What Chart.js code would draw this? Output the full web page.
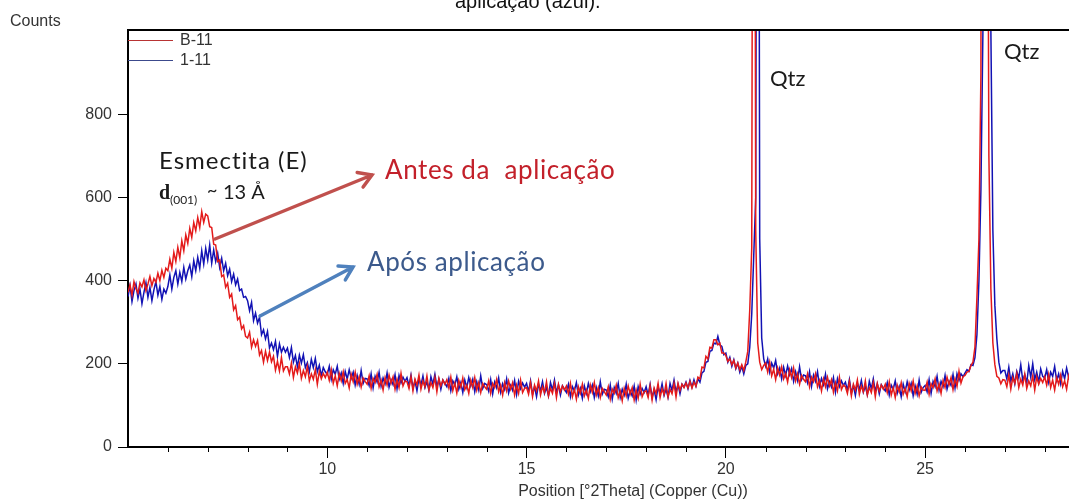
<!DOCTYPE html>
<html>
<head>
<meta charset="utf-8">
<script src="https://cdn.jsdelivr.net/npm/chart.js@4.4.0/dist/chart.umd.min.js"></script>
<style>
  html, body { margin: 0; padding: 0; background: #fff; }
</style>
</head>
<body>
<canvas id="xrd" width="1069" height="500"></canvas>
<script>
// 2theta sampling of both scans
const thetaStart = 5;
const thetaStep = 0.05;

// B-11 (antes da aplicacao), one row per degree
const countsB11 = [
  372, 390, 365, 398, 381, 370, 395, 385, 402, 376, 392, 410, 388, 405, 396, 418, 400, 425, 408, 430,
  424, 452, 430, 468, 446, 480, 455, 496, 472, 510, 490, 526, 504, 540, 520, 552, 528, 566, 540, 560,
  556, 530, 528, 488, 486, 446, 450, 410, 414, 384, 394, 360, 368, 330, 340, 306, 312, 284, 292, 266,
  262, 276, 240, 258, 242, 256, 221, 232, 204, 230, 208, 228, 205, 218, 185, 206, 183, 215, 183, 193,
  193, 176, 202, 167, 193, 178, 200, 165, 184, 169, 194, 159, 176, 163, 186, 151, 182, 164, 177, 167,
  180, 160, 186, 153, 171, 147, 177, 159, 181, 153, 162, 142, 175, 157, 180, 151, 169, 144, 166, 158,
  151, 171, 141, 165, 155, 175, 145, 161, 137, 167, 149, 173, 153, 169, 139, 163, 143, 177, 147, 159,
  157, 141, 169, 135, 163, 149, 173, 139, 159, 145, 171, 137, 155, 143, 167, 133, 165, 147, 161, 151,
  162, 142, 168, 136, 154, 130, 160, 144, 166, 138, 149, 129, 161, 143, 167, 137, 155, 131, 153, 145,
  139, 159, 129, 153, 143, 163, 133, 149, 125, 155, 135, 159, 139, 155, 125, 149, 129, 161, 131, 141,
  143, 127, 155, 121, 149, 135, 159, 125, 145, 131, 157, 123, 141, 129, 153, 119, 151, 133, 147, 137,
  147, 127, 153, 121, 139, 115, 145, 129, 151, 123, 137, 117, 149, 131, 155, 125, 143, 119, 141, 133,
  125, 145, 115, 139, 129, 149, 119, 135, 111, 141, 123, 147, 127, 143, 113, 137, 117, 151, 121, 133,
  135, 119, 147, 113, 142, 128, 153, 119, 140, 126, 153, 120, 139, 128, 153, 120, 153, 136, 151, 143,
  154, 142, 158, 142, 156, 146, 168, 164, 192, 190, 218, 212, 240, 238, 258, 258, 246, 250, 226, 226,
  220, 206, 212, 198, 208, 190, 202, 186, 198, 184, 204, 230, 330, 480, 3000, 520, 250, 204, 186, 196,
  202, 180, 204, 171, 187, 162, 190, 173, 193, 164, 177, 156, 186, 167, 190, 159, 176, 151, 172, 163,
  157, 176, 145, 168, 157, 176, 145, 160, 135, 164, 145, 168, 147, 162, 132, 155, 135, 168, 138, 149,
  145, 129, 157, 123, 151, 137, 161, 127, 147, 133, 159, 125, 143, 131, 155, 121, 153, 135, 149, 139,
  151, 131, 157, 125, 143, 119, 149, 133, 155, 127, 141, 121, 153, 135, 159, 129, 147, 123, 145, 137,
  136, 156, 127, 152, 143, 164, 135, 152, 129, 160, 143, 168, 149, 167, 138, 164, 146, 182, 154, 169,
  172, 180, 182, 196, 204, 240, 360, 500, 900, 4500, 6000, 2000, 700, 380, 250, 198, 170, 166, 152, 162,
  161, 145, 173, 139, 167, 153, 177, 143, 163, 149, 175, 141, 159, 147, 171, 137, 169, 151, 165, 155,
  169, 149, 175, 143, 161, 137, 167, 151, 173, 145, 159, 139, 171, 153
];

// 1-11 (apos aplicacao)
const counts111 = [
  362, 388, 350, 376, 392, 358, 380, 345, 372, 395, 360, 384, 352, 378, 398, 365, 386, 355, 380, 370,
  386, 414, 380, 408, 424, 392, 420, 398, 432, 404, 424, 438, 410, 448, 424, 456, 430, 472, 440, 478,
  450, 486, 442, 474, 446, 466, 432, 454, 424, 442, 412, 428, 398, 416, 390, 404, 376, 380, 360, 362,
  352, 328, 348, 304, 322, 298, 312, 270, 282, 260, 278, 238, 250, 234, 254, 218, 248, 228, 240, 228,
  238, 215, 239, 204, 220, 193, 221, 202, 222, 191, 203, 181, 211, 191, 213, 181, 197, 171, 191, 181,
  175, 194, 163, 186, 175, 194, 163, 178, 153, 182, 163, 186, 165, 180, 149, 172, 151, 184, 153, 165,
  164, 148, 176, 142, 170, 156, 180, 146, 166, 152, 178, 144, 162, 150, 174, 140, 172, 154, 168, 158,
  167, 147, 173, 141, 159, 135, 165, 149, 171, 143, 157, 137, 169, 151, 175, 145, 163, 139, 161, 153,
  145, 165, 135, 159, 149, 169, 139, 155, 131, 161, 143, 167, 147, 163, 133, 157, 137, 171, 141, 153,
  150, 134, 162, 128, 156, 142, 166, 132, 152, 138, 164, 130, 148, 136, 160, 126, 158, 140, 154, 144,
  153, 133, 159, 127, 145, 121, 151, 135, 157, 129, 143, 123, 155, 137, 161, 131, 149, 125, 147, 139,
  131, 151, 121, 145, 135, 155, 125, 141, 117, 147, 129, 153, 133, 149, 119, 143, 123, 157, 127, 139,
  137, 121, 149, 115, 143, 129, 153, 119, 139, 125, 151, 117, 135, 123, 147, 113, 145, 127, 141, 131,
  145, 125, 151, 119, 138, 114, 145, 129, 152, 124, 139, 120, 153, 136, 161, 132, 151, 128, 151, 144,
  156, 140, 160, 144, 162, 146, 164, 156, 178, 182, 204, 206, 230, 232, 250, 248, 266, 246, 242, 222,
  226, 204, 216, 194, 210, 188, 202, 180, 194, 176, 196, 200, 240, 320, 460, 600, 3000, 500, 262, 212,
  194, 212, 180, 202, 190, 208, 176, 190, 164, 192, 172, 195, 174, 189, 158, 181, 160, 193, 162, 173,
  171, 154, 181, 146, 173, 158, 181, 146, 165, 150, 175, 140, 157, 144, 167, 132, 164, 145, 159, 148,
  156, 136, 162, 130, 148, 124, 154, 138, 160, 132, 146, 126, 158, 140, 164, 134, 152, 128, 150, 142,
  135, 155, 125, 149, 139, 159, 129, 145, 121, 151, 133, 157, 137, 153, 123, 147, 127, 161, 131, 143,
  148, 133, 162, 129, 158, 145, 170, 137, 158, 145, 172, 139, 158, 148, 174, 142, 176, 160, 176, 169,
  178, 186, 182, 198, 196, 215, 270, 400, 620, 1000, 4000, 6000, 2500, 1000, 520, 340, 260, 204, 178, 184,
  184, 164, 192, 158, 176, 152, 182, 166, 198, 160, 174, 154, 196, 168, 200, 162, 180, 156, 188, 170,
  166, 186, 156, 180, 170, 194, 160, 176, 152, 182, 164, 190, 168, 184
];

const xTickLabels = [10, 15, 20, 25];
const xMinorTicks = [6, 7, 8, 9, 11, 12, 13, 14, 16, 17, 18, 19, 21, 22, 23, 24, 26, 27, 28];
const yTickLabels = [0, 200, 400, 600, 800];

const axisFont = '"Liberation Sans", Arial, sans-serif';
const noteFont = 'Lato, "Open Sans", sans-serif';

function toPoints(counts) {
    return counts.map((c, i) => ({ x: thetaStart + i * thetaStep, y: c }));
}

function drawArrow(ctx, x1, y1, x2, y2, color, width) {
    const ang = Math.atan2(y2 - y1, x2 - x1);
    const head = 15;
    ctx.strokeStyle = color;
    ctx.lineWidth = width;
    ctx.lineCap = 'round';
    ctx.beginPath();
    ctx.moveTo(x1, y1);
    ctx.lineTo(x2, y2);
    ctx.moveTo(x2 - head * Math.cos(ang - 0.55), y2 - head * Math.sin(ang - 0.55));
    ctx.lineTo(x2, y2);
    ctx.lineTo(x2 - head * Math.cos(ang + 0.55), y2 - head * Math.sin(ang + 0.55));
    ctx.stroke();
}

const decorPlugin = {
    id: 'decor',
    afterDraw(chart) {
        const { ctx, chartArea: a, scales } = chart;
        const x = scales.x;
        ctx.save();

        // frame top line
        ctx.strokeStyle = '#000';
        ctx.lineWidth = 2;
        ctx.beginPath();
        ctx.moveTo(a.left - 1, a.top);
        ctx.lineTo(a.right, a.top);
        ctx.stroke();

        // short minor ticks on x
        ctx.lineWidth = 1;
        xMinorTicks.forEach(v => {
            const px = Math.round(x.getPixelForValue(v)) + 0.5;
            ctx.beginPath();
            ctx.moveTo(px, a.bottom);
            ctx.lineTo(px, a.bottom + 5);
            ctx.stroke();
        });

        // axis texts
        ctx.fillStyle = '#333';
        ctx.font = '16px ' + axisFont;
        ctx.textBaseline = 'alphabetic';
        ctx.textAlign = 'left';
        ctx.fillText('Counts', 10, 26);
        ctx.textAlign = 'center';
        ctx.fillText('Position [°2Theta] (Copper (Cu))', 633, 496);

        // cut-off caption at the very top
        ctx.fillStyle = '#111';
        ctx.textAlign = 'left';
        ctx.font = '20px "Liberation Sans", Arial, sans-serif';
        ctx.fillText('aplicação (azul).', 455, 8);

        // legend
        ctx.lineWidth = 1;
        ctx.strokeStyle = '#b83434';
        ctx.beginPath(); ctx.moveTo(a.left, 40.5); ctx.lineTo(173, 40.5); ctx.stroke();
        ctx.strokeStyle = '#3c4a8c';
        ctx.beginPath(); ctx.moveTo(a.left, 60.5); ctx.lineTo(173, 60.5); ctx.stroke();
        ctx.fillStyle = '#333';
        ctx.font = '16px ' + axisFont;
        ctx.textBaseline = 'middle';
        ctx.fillText('B-11', 180, 41);
        ctx.fillText('1-11', 180, 61);

        // annotations
        ctx.textBaseline = 'alphabetic';
        ctx.fillStyle = '#1a1a1a';
        ctx.font = '24px ' + noteFont;
        ctx.letterSpacing = '1px';
        ctx.fillText('Esmectita (E)', 159, 169);
        ctx.letterSpacing = '0px';
        ctx.font = 'bold 20px "Liberation Serif", serif';
        ctx.fillText('d', 159, 199);
        ctx.font = '12px ' + noteFont;
        ctx.fillText('(001)', 170, 204);
        ctx.font = '18px ' + noteFont;
        ctx.fillText('~', 207, 196);
        ctx.font = '20px ' + noteFont;
        ctx.fillText('13 Å', 223, 199);

        ctx.font = '22px ' + noteFont;
        ctx.fillText('Qtz', 770, 86);
        ctx.fillText('Qtz', 1004, 59);

        ctx.font = '26px ' + noteFont;
        ctx.letterSpacing = '0.6px';
        ctx.fillStyle = '#c3202a';
        ctx.fillText('Antes da  aplicação', 385, 179);
        ctx.fillStyle = '#3c5a8c';
        ctx.fillText('Após aplicação', 367, 271);
        ctx.letterSpacing = '0px';

        drawArrow(ctx, 215, 239, 372, 175, '#c0504d', 3.5);
        drawArrow(ctx, 260, 316, 353, 267, '#4f81bd', 3.5);

        ctx.restore();
    }
};

const ctx = document.getElementById('xrd').getContext('2d');
new Chart(ctx, {
    type: 'line',
    data: {
        datasets: [
            {
                label: 'B-11',
                data: toPoints(countsB11),
                borderColor: '#e41a1a',
                borderWidth: 1.5,
                pointRadius: 0,
                tension: 0
            },
            {
                label: '1-11',
                data: toPoints(counts111),
                borderColor: '#1212b4',
                borderWidth: 1.5,
                pointRadius: 0,
                tension: 0
            }
        ]
    },
    options: {
        responsive: false,
        animation: false,
        layout: { padding: { top: 30, right: 0, left: 0, bottom: 0 } },
        plugins: {
            legend: { display: false },
            tooltip: { enabled: false },
            title: { display: false }
        },
        scales: {
            x: {
                type: 'linear',
                min: 5,
                max: 28.61,
                afterBuildTicks: scale => { scale.ticks = xTickLabels.map(v => ({ value: v })); },
                afterFit: scale => { scale.height = 53; },
                ticks: {
                    font: { family: axisFont, size: 16 },
                    color: '#333',
                    padding: 2,
                    maxRotation: 0,
                    autoSkip: false
                },
                grid: { drawOnChartArea: false, tickLength: 11, tickColor: '#000', tickWidth: 1 },
                border: { color: '#000', width: 2 }
            },
            y: {
                min: 0,
                max: 1003,
                afterBuildTicks: scale => { scale.ticks = yTickLabels.map(v => ({ value: v })); },
                afterFit: scale => { scale.width = 128; },
                ticks: {
                    font: { family: axisFont, size: 16 },
                    color: '#333',
                    padding: 6
                },
                grid: { drawOnChartArea: false, tickLength: 10, tickColor: '#000', tickWidth: 1 },
                border: { color: '#000', width: 2 }
            }
        }
    },
    plugins: [decorPlugin]
});
</script>
</body>
</html>
